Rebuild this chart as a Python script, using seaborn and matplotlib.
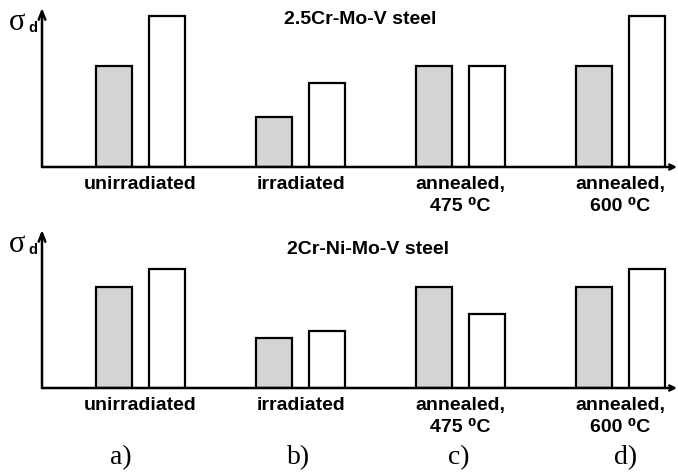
import matplotlib
matplotlib.use("Agg")
import matplotlib.pyplot as plt
import seaborn as sns
import pandas as pd

sns.set_theme(style="white")
plt.rcParams['font.family'] = ['Liberation Sans', 'DejaVu Sans']
plt.rcParams['text.color'] = 'black'

categories = ["unirradiated", "irradiated", "annealed,\n475 \u2070C", "annealed,\n600 \u2070C"]
series = ["A", "B"]
top_gray = [1.0, 0.50, 1.0, 1.0]
top_white = [1.50, 0.83, 1.0, 1.50]
bot_gray = [1.0, 0.50, 1.0, 1.0]
bot_white = [1.18, 0.56, 0.73, 1.18]
titles = ["2.5Cr-Mo-V steel", "2Cr-Ni-Mo-V steel"]
panel_labels = ["a)", "b)", "c)", "d)"]

W, H = 678, 474
fig = plt.figure(figsize=(W / 100, H / 100), dpi=100)


def make_ax(base_px, top_px):
    left = 42 / W
    right = 677 / W
    return fig.add_axes([left, 1 - base_px / H, right - left, (base_px - top_px) / H])


panels = [
    (top_gray, top_white, 167, 8, titles[0], 360, 20, 22),
    (bot_gray, bot_white, 388, 230, titles[1], 368, 250, 244),
]

for gray, white, base, tip, title, tx, ty, sy in panels:
    ax = make_ax(base, tip)
    df = pd.DataFrame({
        "cat": categories * 2,
        "series": [series[0]] * 4 + [series[1]] * 4,
        "val": gray + white,
    })
    sns.barplot(data=df, x="cat", y="val", hue="series", order=categories,
                hue_order=series, palette=["#d4d4d4", "white"], width=0.6625,
                gap=0.32, edgecolor="black", linewidth=1.6, legend=False, ax=ax,
                saturation=1)
    ax.set_xlim(-0.616, (677 - 140.5) / 160)
    ax.set_ylim(0, (base - tip) / 101)
    for s in ax.spines.values():
        s.set_visible(False)
    ax.set_xticks([])
    ax.set_yticks([])
    ax.set_xlabel("")
    ax.set_ylabel("")
    ax.patch.set_alpha(0)
    ax.annotate("", xy=(0, 1), xytext=(0, 0), xycoords="axes fraction",
                arrowprops=dict(arrowstyle="->,head_width=0.2,head_length=0.5",
                                color="black", lw=1.8, shrinkA=0, shrinkB=0))
    ax.annotate("", xy=(1, 0), xytext=(0, 0), xycoords="axes fraction",
                arrowprops=dict(arrowstyle="->,head_width=0.15,head_length=0.3",
                                color="black", lw=1.8, shrinkA=0, shrinkB=0))
    for i, c in enumerate(categories):
        fig.text((140.5 + 160 * i) / W, 1 - (base + 9) / H, c, ha="center", va="top",
                 fontsize=14, fontweight="bold", linespacing=1.4)
    fig.text(tx / W, 1 - ty / H, title, ha="center", va="center",
             fontsize=14, fontweight="bold")
    fig.text(9 / W, 1 - sy / H, "\u03c3", ha="left", va="center",
             fontsize=22, family=["Liberation Serif", "DejaVu Serif"])
    fig.text(28 / W, 1 - (sy + 6) / H, "d", ha="left", va="center",
             fontsize=10.5, fontweight="bold")

for i, lab in enumerate(panel_labels):
    fig.text([121, 299, 459, 626][i] / W, 1 - 458 / H, lab, ha="center", va="center",
             fontsize=20, family=["Liberation Serif", "DejaVu Serif"])

fig.savefig("out.png", dpi=100)
